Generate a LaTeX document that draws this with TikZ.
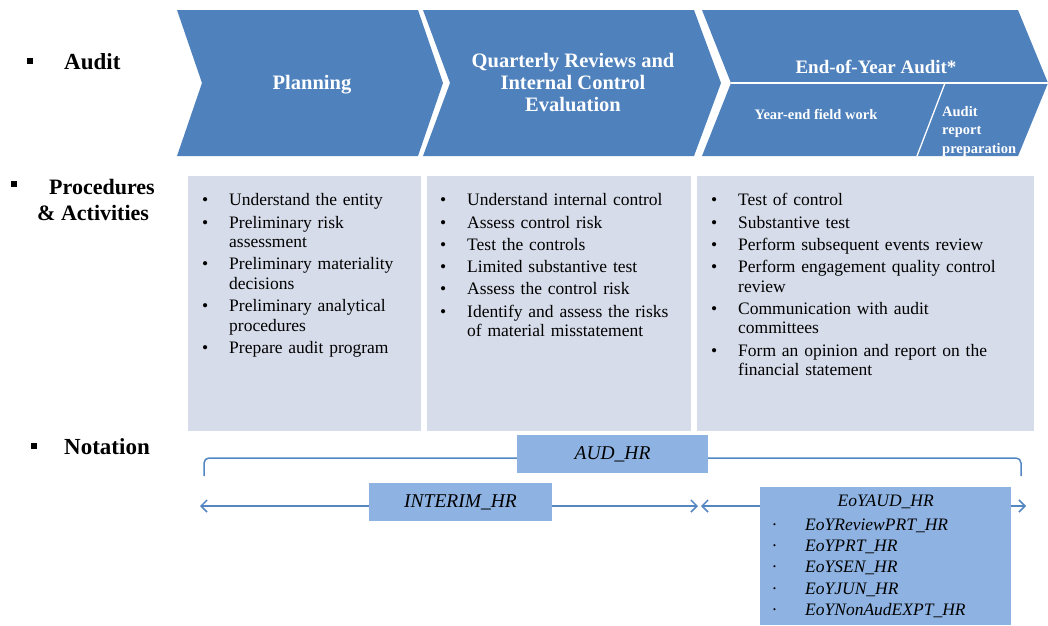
\documentclass[tikz,border=0pt]{standalone}
\usepackage{fontspec}
\setmainfont{Liberation Serif}
\usepackage{enumitem}
\usetikzlibrary{arrows.meta}
\usetikzlibrary{positioning}
\definecolor{chevronBlue}{RGB}{79, 129, 189}
\definecolor{panelGray}{RGB}{214, 220, 233}
\definecolor{notationBlue}{RGB}{142, 179, 226}
\definecolor{lineBlue}{RGB}{84, 134, 194}

\tikzset{
  chevron/.style={fill=chevronBlue},
  divider/.style={draw=white, line width=1.3pt},
  panel/.style={fill=panelGray, inner sep=0pt, anchor=north west},
  square/.style={fill=black, inner sep=0pt, minimum size=6pt},
  heading/.style={font=\fontsize{23}{26}\selectfont\bfseries, inner sep=0pt,
                  anchor=west, align=left},
  phase/.style={text=white, font=\fontsize{20.5}{22}\selectfont\bfseries,
                align=center, inner sep=0pt},
  subphase/.style={text=white, font=\fontsize{14.5}{18.5}\selectfont\bfseries,
                   inner sep=0pt},
  activities/.style={anchor=north west, inner sep=0pt, text width=#1,
                     align=left, font=\fontsize{17.5}{19.5}\selectfont},
  tag/.style={fill=notationBlue, inner sep=0pt,
              font=\fontsize{19.5}{22}\selectfont\itshape},
  span/.style={draw=lineBlue, line width=1.5pt}
}

\newcommand{\actlist}[1]{%
  \begin{itemize}[leftmargin=27pt, labelsep=0pt, labelwidth=27pt, align=left,
                  itemsep=2.8pt, parsep=0pt, topsep=0pt, partopsep=0pt]
  #1
  \end{itemize}}
\newcommand{\tagitem}[1]{\hspace*{12pt}\makebox[33pt][l]{\textperiodcentered}#1}

\begin{document}
\begin{tikzpicture}[x=1pt, y=-1pt, >={Straight Barb[length=6pt, width=12pt]}]
      \useasboundingbox (0,0) rectangle (1048,625);

      % phase chevrons
      \fill [chevron] (177,10) -- (418,10) -- (443,83) -- (418,156)
            -- (177,156) -- (202,83) -- cycle;
      \fill [chevron] (423,10) -- (694,10) -- (721,83) -- (694,156)
            -- (423,156) -- (450,83) -- cycle;
      \fill [chevron] (702,10) -- (1018,10) -- (1048,83) -- (1018,156)
            -- (702,156) -- (731,83) -- cycle;
      \draw [divider] (731,83) -- (1048,83);
      \draw [divider] (945,83) -- (917,156);

      \node [phase] (planning) at (312,85) {Planning};
      \node [phase] (quarterly) at (573,83)
            {Quarterly Reviews and\\Internal Control\\Evaluation};
      \node [phase, font=\fontsize{19}{22}\selectfont\bfseries] (yearend)
            at (876,67) {End-of-Year Audit*};
      \node [subphase] (fieldwork) at (816,114) {Year-end field work};
      \node [subphase, anchor=north west, align=left] (reportprep)
            at (942,106) {Audit\\report\\preparation};

      % row headings
      \node [square] (sqAudit) at (30,61) {};
      \node [heading] (audit) at (64,62) {Audit};
      \node [square] (sqProc) at (14,184) {};
      \node [heading, font=\fontsize{22}{26}\selectfont\bfseries,
             anchor=north west] (procedures) at (37,179)
            {\hspace*{12pt}Procedures\\\& Activities};
      \node [square] (sqNotation) at (34,446) {};
      \node [heading] (notation) at (64,447) {Notation};

      % activity panels
      \node [panel, minimum width=233pt, minimum height=255pt] (planPanel)
            at (188,176) {};
      \node [panel, minimum width=264pt, minimum height=255pt] (reviewPanel)
            at (427,176) {};
      \node [panel, minimum width=337pt, minimum height=255pt] (yearPanel)
            at (697,176) {};

      \node [activities=215pt] (planList) at (202,186) {\actlist{
            \item Understand the entity
            \item Preliminary risk\\assessment
            \item Preliminary materiality\\decisions
            \item Preliminary analytical\\procedures
            \item Prepare audit program}};
      \node [activities=250pt] (reviewList) at (440,186) {\actlist{
            \item Understand internal control
            \item Assess control risk
            \item Test the controls
            \item Limited substantive test
            \item Assess the control risk
            \item Identify and assess the risks\\of material misstatement}};
      \node [activities=320pt] (yearList) at (711,186) {\actlist{
            \item Test of control
            \item Substantive test
            \item Perform subsequent events review
            \item Perform engagement quality control\\review
            \item Communication with audit\\committees
            \item Form an opinion and report on the\\financial statement}};

      % notation spans
      \coordinate (braceL) at (204,476);
      \coordinate (braceR) at (1021,476);
      \coordinate (braceTop) at (612,458);
      \draw [span, rounded corners=5pt] (braceL) |- (braceTop) -| (braceR);

      \node [tag, minimum width=191pt, minimum height=38pt] (aud)
            at (612.5,454) {AUD\_HR};
      \node [tag, minimum width=183pt, minimum height=38pt] (interim)
            at (460.5,502) {INTERIM\_HR};
      \node [tag, anchor=north west, text width=251pt, minimum height=138pt,
             align=left, font=\fontsize{17.5}{21.2}\selectfont\itshape] (eoy)
            at (760,487)
            {\vspace*{3pt}\makebox[251pt]{EoYAUD\_HR}\\
             \tagitem{EoYReviewPRT\_HR}\\
             \tagitem{EoYPRT\_HR}\\
             \tagitem{EoYSEN\_HR}\\
             \tagitem{EoYJUN\_HR}\\
             \tagitem{EoYNonAudEXPT\_HR}};

      \coordinate (spanL) at (200,506);
      \coordinate (spanM) at (698,506);
      \coordinate (spanMR) at (701,506);
      \coordinate (spanR) at (1026,506);
      \draw [span, <-] (spanL) -- (interim.west |- spanL);
      \draw [span, ->] (interim.east |- spanM) -- (spanM);
      \draw [span, <-] (spanMR) -- (eoy.west |- spanMR);
      \draw [span, ->] (eoy.east |- spanR) -- (spanR);
\end{tikzpicture}
\end{document}
